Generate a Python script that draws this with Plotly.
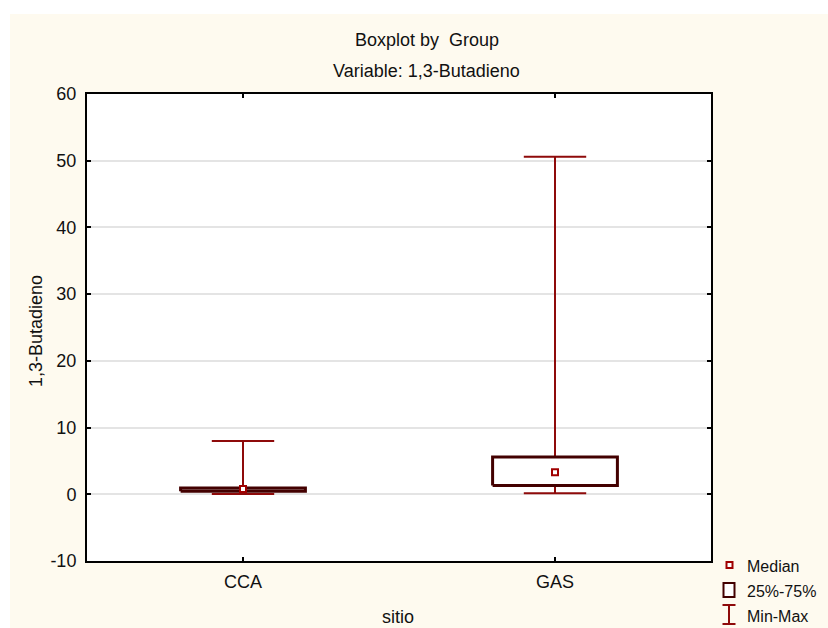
import plotly.graph_objects as go

# ---- data ----
groups = ["CCA", "GAS"]
minimum = [0.05, 0.15]
q1 = [0.45, 1.3]
median = [0.8, 3.3]
q3 = [0.95, 5.6]
maximum = [8.0, 50.6]

y_ticks = [-10, 0, 10, 20, 30, 40, 50, 60]
y_labels = ["-10", "0", "10", "20", "30", "40", "50", "60"]

# ---- style ----
W, H = 828, 628
L, R, T, B = 87, 711, 94, 561
CREAM = "#FEFAEF"
WHISK = "#8E0A0A"
BOXC = "#430000"
MEDC = "#A00000"
FONT = "Liberation Sans, Arial, sans-serif"
FS = 18
TXT = "#111111"


def px(xp):
    return (xp - L) / (R - L)


def py(yp):
    return (B - yp) / (B - T)


fig = go.Figure()
pos = list(range(len(groups)))

# whiskers with caps
wx, wy = [], []
for i in pos:
    wx += [i, i, None, i - 0.1, i + 0.1, None, i - 0.1, i + 0.1, None]
    wy += [minimum[i], maximum[i], None, maximum[i], maximum[i], None,
           minimum[i], minimum[i], None]
fig.add_trace(go.Scatter(x=wx, y=wy, mode="lines",
                         line=dict(color=WHISK, width=2),
                         hoverinfo="skip", showlegend=False))

# boxes
for i in pos:
    fig.add_trace(go.Scatter(
        x=[i - 0.2, i + 0.2, i + 0.2, i - 0.2, i - 0.2],
        y=[q1[i], q1[i], q3[i], q3[i], q1[i]],
        mode="lines", fill="toself", fillcolor="white",
        line=dict(color=BOXC, width=3), hoverinfo="skip", showlegend=False))

# medians
fig.add_trace(go.Scatter(x=pos, y=median, mode="markers",
                         marker=dict(symbol="square", size=6, color="white",
                                     line=dict(color=MEDC, width=2)),
                         showlegend=False))

shapes = [
    # white strips around the cream panel
    dict(type="rect", xref="paper", yref="paper", x0=px(-20), x1=px(W + 20),
         y0=py(14), y1=py(-20), fillcolor="white", line=dict(width=0), layer="below"),
    dict(type="rect", xref="paper", yref="paper", x0=px(-20), x1=px(10),
         y0=py(H + 20), y1=py(-20), fillcolor="white", line=dict(width=0), layer="below"),
    # legend symbols
    dict(type="rect", xref="paper", yref="paper", x0=px(726.5), x1=px(732.5),
         y0=py(568), y1=py(562), line=dict(color=MEDC, width=2), fillcolor="white"),
    dict(type="rect", xref="paper", yref="paper", x0=px(723.5), x1=px(734.5),
         y0=py(597), y1=py(583), line=dict(color=BOXC, width=2), fillcolor="white"),
    dict(type="line", xref="paper", yref="paper", x0=px(729), x1=px(729),
         y0=py(605), y1=py(624), line=dict(color=WHISK, width=2)),
    dict(type="line", xref="paper", yref="paper", x0=px(722.5), x1=px(735.5),
         y0=py(605), y1=py(605), line=dict(color=WHISK, width=2)),
    dict(type="line", xref="paper", yref="paper", x0=px(722.5), x1=px(735.5),
         y0=py(624), y1=py(624), line=dict(color=WHISK, width=2)),
]

ann_font = dict(family=FONT, size=FS, color=TXT)
leg_font = dict(family=FONT, size=16, color=TXT)
annotations = [
    dict(text="Boxplot by\u00a0 Group", x=px(427), y=py(40), xref="paper", yref="paper",
         showarrow=False, font=ann_font, xanchor="center", yanchor="middle"),
    dict(text="Variable: 1,3-Butadieno", x=px(427), y=py(71), xref="paper", yref="paper",
         showarrow=False, font=ann_font, xanchor="center", yanchor="middle"),
    dict(text="1,3-Butadieno", x=px(36), y=py(331), xref="paper", yref="paper",
         showarrow=False, font=ann_font, textangle=-90, xanchor="center", yanchor="middle"),
    dict(text="sitio", x=px(398), y=py(617), xref="paper", yref="paper",
         showarrow=False, font=ann_font, xanchor="center", yanchor="middle"),
    dict(text="Median", x=px(745), y=py(566), xref="paper", yref="paper",
         showarrow=False, font=leg_font, xanchor="left", yanchor="middle"),
    dict(text="25%-75%", x=px(745), y=py(591), xref="paper", yref="paper",
         showarrow=False, font=leg_font, xanchor="left", yanchor="middle"),
    dict(text="Min-Max", x=px(745), y=py(616), xref="paper", yref="paper",
         showarrow=False, font=leg_font, xanchor="left", yanchor="middle"),
]

fig.update_layout(
    width=W, height=H,
    margin=dict(l=L, r=W - R, t=T, b=H - B, pad=0),
    paper_bgcolor=CREAM, plot_bgcolor="white",
    font=dict(family=FONT, size=FS, color=TXT),
    showlegend=False,
    shapes=shapes, annotations=annotations,
    xaxis=dict(range=[-0.5, 1.5], tickmode="array", tickvals=pos, ticktext=groups,
               ticks="inside", ticklen=4, tickwidth=1.5, tickcolor="black",
               showline=True, linecolor="black", linewidth=2, mirror="ticks",
               showgrid=False, zeroline=False, ticklabelstandoff=3, fixedrange=True,
               tickfont=dict(size=18)),
    yaxis=dict(range=[-10, 60], tickmode="array", tickvals=y_ticks, ticktext=y_labels,
               ticks="inside", ticklen=4, tickwidth=1.5, tickcolor="black",
               showline=True, linecolor="black", linewidth=2, mirror="ticks",
               showgrid=True, gridcolor="#E4E4E4", gridwidth=1.5,
               zeroline=False, ticklabelstandoff=5, fixedrange=True,
               tickfont=dict(size=18)),
)

fig.write_html("out.html", config=dict(displayModeBar=False))
